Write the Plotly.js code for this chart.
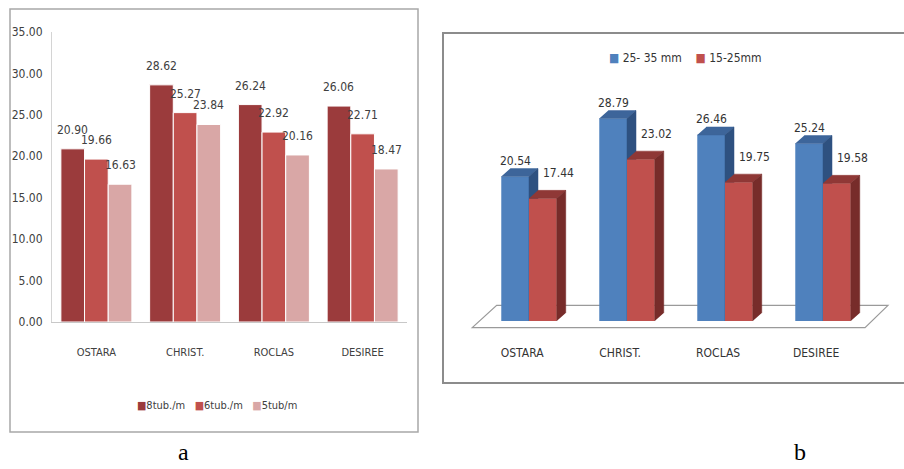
<!DOCTYPE html>
<html>
<head>
<meta charset="utf-8">
<script src="https://cdn.plot.ly/plotly-3.0.1.min.js"></script>
<style>
  html, body { margin: 0; padding: 0; background: #ffffff; }
  #chart { width: 904px; height: 469px; }
</style>
</head>
<body>
<div id="chart"></div>
<script>
// Potato varieties
const categories = ['OSTARA', 'CHRIST.', 'ROCLAS', 'DESIREE'];

// (a) planting density series
const densityNames = ['8tub./m', '6tub./m', '5tub/m'];
const tub8 = [20.90, 28.62, 26.24, 26.06];
const tub6 = [19.66, 25.27, 22.92, 22.71];
const tub5 = [16.63, 23.84, 20.16, 18.47];
const yTicksA = [0, 5, 10, 15, 20, 25, 30, 35];

// (b) tuber size series
const sizeNames = ['25- 35 mm', '15-25mm'];
const size2535 = [20.54, 28.79, 26.46, 25.24];
const size1525 = [17.44, 23.02, 19.75, 19.58];

const panelLetters = ['a', 'b'];

// ---------- styling ----------
const W = 904, H = 469;
const px = v => v / W;            // paper x from pixels
const py = v => 1 - v / H;        // paper y from pixels
const narrow = '"Liberation Sans Narrow", "DejaVu Sans Condensed", Arial, sans-serif';
const cond = '"DejaVu Sans Condensed", "Liberation Sans", sans-serif';
const colorsA = ['#9B3B3C', '#C0504D', '#D9A7A6'];
const faceB = [
  { front: '#4F81BD', top: '#3D659A', side: '#2E5180' },
  { front: '#C0504D', top: '#8F3836', side: '#772C2A' }
];

const idx = categories.map((_, i) => i);
const traces = [];
const annotations = [];

// ---------- (a) grouped bars ----------
const seriesA = [tub8, tub6, tub5];
const groupFrac = 0.8;
const barA = groupFrac / seriesA.length;
seriesA.forEach((vals, k) => {
  traces.push({
    type: 'bar', x: idx, y: vals, name: densityNames[k],
    xaxis: 'x', yaxis: 'y',
    marker: { color: colorsA[k], line: { color: '#ffffff', width: 1 } },
    hoverinfo: 'skip', showlegend: false
  });
  vals.forEach((v, i) => {
    annotations.push({
      xref: 'x', yref: 'y', x: i + (k - (seriesA.length - 1) / 2) * barA, y: v,
      text: v.toFixed(2), showarrow: false, yshift: 19,
      font: { family: narrow, size: 12, color: '#404040' }
    });
  });
});

// legend for (a)
annotations.push({
  xref: 'paper', yref: 'paper', x: px(217), y: py(405),
  xanchor: 'center', yanchor: 'middle', showarrow: false,
  text: densityNames.map((n, k) =>
    '<span style="color:' + colorsA[k] + '">\u25A0</span>' + n).join('&nbsp;&nbsp;&nbsp;'),
  font: { family: narrow, size: 11, color: '#404040' }
});

// ---------- (b) 3-D style bars ----------
const seriesB = [size2535, size1525];
const wB = 0.283;        // bar face width (category units)
const dX = 0.092;        // depth offset along x
const dY = 1.14;         // depth offset along y
const axesB = [['x2', 'y2'], ['x3', 'y3']];

seriesB.forEach((vals, k) => {
  const off = k === 0 ? -wB : 0;
  const [xa, ya] = axesB[k];
  traces.push({
    type: 'bar', x: idx, y: vals, name: sizeNames[k],
    width: wB, offset: off, xaxis: xa, yaxis: ya,
    marker: { color: faceB[k].front, line: { width: 0 } },
    hoverinfo: 'skip', showlegend: false
  });
  const topX = [], topY = [], sideX = [], sideY = [];
  vals.forEach((v, i) => {
    const x0 = i + off, x1 = x0 + wB;
    topX.push(x0, x1, x1 + dX, x0 + dX, null);
    topY.push(v, v, v + dY, v + dY, null);
    sideX.push(x1, x1, x1 + dX, x1 + dX, null);
    sideY.push(0, v, v + dY, dY, null);
  });
  traces.push({
    type: 'scatter', mode: 'lines', x: topX, y: topY, fill: 'toself',
    fillcolor: faceB[k].top, line: { color: faceB[k].top, width: 0.5 },
    xaxis: xa, yaxis: ya, hoverinfo: 'skip', showlegend: false
  });
  traces.push({
    type: 'scatter', mode: 'lines', x: sideX, y: sideY, fill: 'toself',
    fillcolor: faceB[k].side, line: { color: faceB[k].side, width: 0.5 },
    xaxis: xa, yaxis: ya, hoverinfo: 'skip', showlegend: false
  });
  vals.forEach((v, i) => {
    annotations.push({
      xref: xa, yref: ya, x: i + off + wB / 2, y: v,
      text: v.toFixed(2), showarrow: false,
      xshift: k === 0 ? 0 : 16, yshift: k === 0 ? 16 : 25.5,
      font: { family: cond, size: 12, color: '#333333' }
    });
  });
});

// legend for (b)
annotations.push({
  xref: 'paper', yref: 'paper', x: px(685), y: py(58),
  xanchor: 'center', yanchor: 'middle', showarrow: false,
  text: sizeNames.map((n, k) =>
    '<span style="color:' + faceB[k].front + '">\u25A0</span> ' + n).join('&nbsp;&nbsp;&nbsp;&nbsp;'),
  font: { family: cond, size: 12, color: '#333333' }
});

// panel letters
[[183, 452], [800, 452]].forEach((p, j) => {
  annotations.push({
    xref: 'paper', yref: 'paper', x: px(p[0]), y: py(p[1]),
    xanchor: 'center', yanchor: 'middle', showarrow: false,
    text: panelLetters[j],
    font: { family: '"Liberation Serif", "DejaVu Serif", serif', size: 24, color: '#000000' }
  });
});

// axis ranges for (b)
const xRangeB = [-0.7, 3.7];
const yRangeB = [-3, 33];

const layout = {
  width: W, height: H,
  margin: { l: 0, r: 0, t: 0, b: 0 },
  paper_bgcolor: '#ffffff', plot_bgcolor: 'rgba(0,0,0,0)',
  showlegend: false, hovermode: false,
  barmode: 'group', bargap: 0.2, bargroupgap: 0,
  xaxis: {
    domain: [px(52), px(407)], range: [-0.5, 3.5], anchor: 'y',
    tickvals: idx, ticktext: categories, ticks: '',
    showline: true, linecolor: '#C8C8C8', linewidth: 1,
    showgrid: false, zeroline: false, ticklabelstandoff: 20,
    tickfont: { family: narrow, size: 11, color: '#404040' }
  },
  yaxis: {
    domain: [py(322), py(32)], range: [0, 35], anchor: 'x',
    tickvals: yTicksA, tickformat: '.2f', ticks: '',
    showline: true, linecolor: '#D4D4D4', linewidth: 1,
    showgrid: false, zeroline: false, ticklabelstandoff: 6,
    tickfont: { family: narrow, size: 12, color: '#404040' }
  },
  xaxis2: {
    domain: [px(460.4), px(891.6)], range: xRangeB, anchor: 'y2',
    tickvals: idx.map(i => i - 0.07), ticktext: categories, ticks: '',
    showline: false, showgrid: false, zeroline: false, ticklabelstandoff: 2,
    tickfont: { family: cond, size: 12, color: '#333333' }
  },
  yaxis2: {
    domain: [py(342.09), py(88.99)], range: yRangeB, anchor: 'x2',
    showline: false, showgrid: false, zeroline: false, showticklabels: false, ticks: ''
  },
  xaxis3: {
    overlaying: 'x2', range: xRangeB, anchor: 'y3', visible: false
  },
  yaxis3: {
    overlaying: 'y2', range: yRangeB, anchor: 'x3', visible: false
  },
  shapes: [
    // panel frames
    { type: 'rect', xref: 'paper', yref: 'paper', x0: px(10), x1: px(418), y0: py(432), y1: py(9),
      line: { color: '#A8A8A8', width: 1.5 }, layer: 'below' },
    { type: 'rect', xref: 'paper', yref: 'paper', x0: px(443), x1: px(908), y0: py(383), y1: py(33),
      line: { color: '#8C8C8C', width: 2 }, layer: 'below' },
    // floor of the 3-D panel
    { type: 'path', xref: 'x2', yref: 'y2', layer: 'below',
      path: 'M -0.579 -0.95 L 3.429 -0.95 L 3.663 2.23 L -0.33 2.23 Z',
      fillcolor: '#ffffff', line: { color: '#9A9A9A', width: 1.2 } }
  ],
  annotations: annotations
};

Plotly.newPlot('chart', traces, layout, { staticPlot: true, displayModeBar: false });
</script>
</body>
</html>
